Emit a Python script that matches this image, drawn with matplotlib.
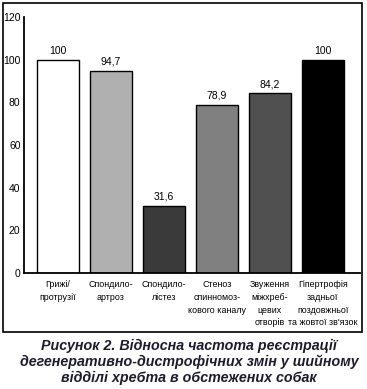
import matplotlib
matplotlib.use("Agg")
import matplotlib.pyplot as plt
from matplotlib.patches import Rectangle

categories = ["Грижі/\nпротрузії", "Спондило-\nартроз", "Спондило-\nлістез",
              "Стеноз\nспинномоз-\nкового каналу", "Звуження\nміжхреб-\nцевих\nотворів",
              "Гіпертрофія\nзадньої\nпоздовжньої\nта жовтої зв'язок"]
values = [100, 94.7, 31.6, 78.9, 84.2, 100]
value_labels = ["100", "94,7", "31,6", "78,9", "84,2", "100"]
colors = ["#ffffff", "#b0b0b0", "#3a3a3a", "#808080", "#505050", "#000000"]
yticks = [0, 20, 40, 60, 80, 100, 120]
caption = ("Рисунок 2. Відносна частота реєстрації\n"
           "дегенеративно-дистрофічних змін у шийному\n"
           "відділі хребта в обстежених собак")

plt.rcParams['font.family'] = ['Liberation Sans', 'DejaVu Sans']

W, H = 367, 389
fig = plt.figure(figsize=(W / 100, H / 100), dpi=100)
ax = fig.add_axes([24 / W, 1 - 273 / H, (360 - 24) / W, (273 - 17) / H])

x = list(range(len(values)))
ax.bar(x, values, width=0.79, color=colors, edgecolor="black", linewidth=1.0)
for xi, v, lab in zip(x, values, value_labels):
    ax.annotate(lab, (xi, v), xytext=(0, 3), textcoords="offset points",
                ha="center", va="bottom", fontsize=7.5)

ax.set_xlim(-0.64, 5.7)
ax.set_ylim(0, 120)
ax.set_yticks(yticks)
ax.tick_params(axis="y", length=0, labelsize=7.5, pad=2.5)
ax.set_xticks(x)
ax.set_xticklabels(categories, fontsize=6.4, linespacing=1.55, va="top")
ax.tick_params(axis="x", length=0, pad=5)
for s in ["top", "right"]:
    ax.spines[s].set_visible(False)
ax.spines["left"].set_linewidth(1.3)
ax.spines["bottom"].set_linewidth(1.3)

fig.patches.append(Rectangle((3 / W, 1 - 332 / H), (362 - 3) / W, (332 - 3) / H,
                             transform=fig.transFigure, fill=False,
                             edgecolor="black", linewidth=1.2))

fig.text(0.515, 1 - 362 / H, caption, ha="center", va="center", fontsize=10.3,
         fontweight="bold", fontstyle="italic", color="#1c1c2e", linespacing=1.12)

fig.savefig("out.png", dpi=100)
